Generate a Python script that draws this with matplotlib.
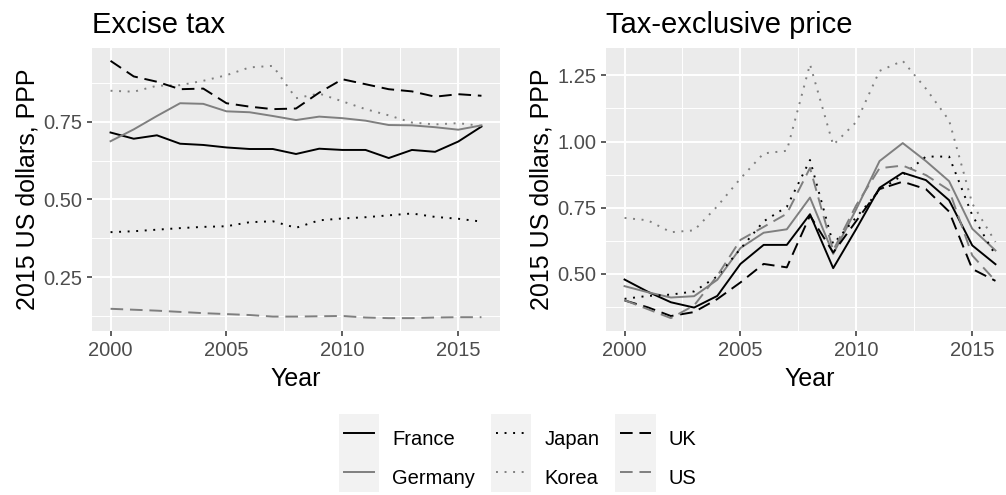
import matplotlib
matplotlib.use("Agg")
import matplotlib.pyplot as plt
import numpy as np
from matplotlib.patches import Rectangle
from matplotlib.ticker import MultipleLocator, FormatStrFormatter

plt.rcParams['font.family'] = ['Liberation Sans', 'DejaVu Sans']

years = np.arange(2000, 2017)
countries = ["France", "Germany", "Japan", "Korea", "UK", "US"]

# excise tax, 2015 US dollars PPP
france_ex = [0.715, 0.695, 0.706, 0.679, 0.675, 0.667, 0.662, 0.662, 0.646, 0.663, 0.659, 0.659, 0.633, 0.659, 0.653, 0.686, 0.734]
germany_ex = [0.687, 0.725, 0.768, 0.809, 0.807, 0.783, 0.780, 0.768, 0.755, 0.766, 0.761, 0.753, 0.739, 0.738, 0.732, 0.724, 0.738]
japan_ex = [0.395, 0.398, 0.403, 0.408, 0.412, 0.414, 0.427, 0.430, 0.409, 0.433, 0.439, 0.443, 0.449, 0.455, 0.444, 0.438, 0.429]
korea_ex = [0.849, 0.846, 0.865, 0.867, 0.881, 0.899, 0.924, 0.929, 0.825, 0.840, 0.815, 0.790, 0.770, 0.747, 0.741, 0.745, 0.736]
uk_ex = [0.945, 0.895, 0.878, 0.854, 0.856, 0.809, 0.798, 0.790, 0.792, 0.843, 0.886, 0.870, 0.854, 0.847, 0.830, 0.838, 0.833]
us_ex = [0.149, 0.146, 0.143, 0.139, 0.135, 0.132, 0.129, 0.124, 0.124, 0.125, 0.126, 0.121, 0.119, 0.119, 0.121, 0.122, 0.122]

# tax-exclusive price
france_p = [0.478, 0.432, 0.392, 0.372, 0.416, 0.537, 0.609, 0.609, 0.725, 0.521, 0.670, 0.825, 0.882, 0.854, 0.778, 0.607, 0.536]
germany_p = [0.453, 0.430, 0.410, 0.415, 0.477, 0.597, 0.655, 0.668, 0.788, 0.575, 0.745, 0.926, 0.994, 0.926, 0.850, 0.670, 0.588]
japan_p = [0.405, 0.416, 0.421, 0.433, 0.490, 0.594, 0.698, 0.753, 0.930, 0.612, 0.714, 0.816, 0.873, 0.943, 0.943, 0.721, 0.570]
korea_p = [0.711, 0.702, 0.657, 0.664, 0.755, 0.860, 0.955, 0.965, 1.292, 0.987, 1.074, 1.267, 1.305, 1.200, 1.080, 0.765, 0.620]
uk_p = [0.399, 0.373, 0.340, 0.355, 0.404, 0.467, 0.537, 0.524, 0.720, 0.580, 0.700, 0.820, 0.848, 0.820, 0.735, 0.518, 0.473]
us_p = [0.400, 0.366, 0.332, 0.380, 0.492, 0.628, 0.677, 0.727, 0.900, 0.588, 0.760, 0.899, 0.909, 0.873, 0.816, 0.569, 0.473]

excise = [france_ex, germany_ex, japan_ex, korea_ex, uk_ex, us_ex]
price = [france_p, germany_p, japan_p, korea_p, uk_p, us_p]

colors = ["black", "#7F7F7F", "black", "#7F7F7F", "black", "#7F7F7F"]
solid = "-"
dotted = (0, (1, 3.4))
dashed = (0, (6.5, 3.5))
styles = [solid, solid, dotted, dotted, dashed, dashed]

fig = plt.figure(figsize=(10.06, 4.95), dpi=100)
ax1 = fig.add_axes([92 / 1006, 1 - 331 / 495, 408 / 1006, 283 / 495])
ax2 = fig.add_axes([606 / 1006, 1 - 331 / 495, 408 / 1006, 283 / 495])


def style_axis(ax, title, major, fmt):
    ax.set_facecolor("#EBEBEB")
    for s in ax.spines.values():
        s.set_visible(False)
    ax.xaxis.set_major_locator(MultipleLocator(5))
    ax.xaxis.set_minor_locator(MultipleLocator(2.5))
    ax.yaxis.set_major_locator(MultipleLocator(major))
    ax.yaxis.set_minor_locator(MultipleLocator(major / 2))
    ax.yaxis.set_major_formatter(FormatStrFormatter(fmt))
    ax.grid(which="major", color="white", lw=1.4)
    ax.grid(which="minor", color="white", lw=0.7)
    ax.set_axisbelow(True)
    ax.tick_params(which="major", length=3.5, width=1.1, color="#333333",
                   labelsize=14.5, labelcolor="#4D4D4D")
    ax.tick_params(axis="x", which="major", pad=4)
    ax.tick_params(axis="y", which="major", pad=3.5)
    ax.tick_params(which="minor", length=0)
    ax.set_xlabel("Year", fontsize=18, labelpad=5)
    ax.set_ylabel("2015 US dollars, PPP", fontsize=18, labelpad=3)
    ax.set_title(title, fontsize=21, loc="left", pad=11)


lines = []
for vals, c, ls, name in zip(excise, colors, styles, countries):
    ln, = ax1.plot(years, vals, color=c, ls=ls, lw=1.4, label=name)
    lines.append(ln)
for vals, c, ls in zip(price, colors, styles):
    ax2.plot(years, vals, color=c, ls=ls, lw=1.4)

style_axis(ax1, "Excise tax", 0.25, "%.2f")
style_axis(ax2, "Tax-exclusive price", 0.25, "%.2f")
ax1.margins(x=0.05, y=0.05)
ax2.margins(x=0.05, y=0.05)

leg = fig.legend(handles=lines, ncol=3, loc="center", bbox_to_anchor=(0.517, 0.074),
                 frameon=False, fontsize=14.5, handlelength=1.5, handleheight=2.3,
                 handletextpad=0.9, columnspacing=1.05, labelspacing=0.2)

fig.canvas.draw()
renderer = fig.canvas.get_renderer()
for h in leg.legend_handles:
    bb = h.get_window_extent(renderer)
    yc = (bb.y0 + bb.y1) / 2
    x0 = bb.x0 - 5
    w = bb.width + 10
    rect = Rectangle((x0 / 1006, (yc - 19.5) / 495), w / 1006, 39 / 495,
                     transform=fig.transFigure, facecolor="#F2F2F2",
                     edgecolor="none", zorder=-1)
    fig.patches.append(rect)

fig.savefig("out.png", dpi=100)
